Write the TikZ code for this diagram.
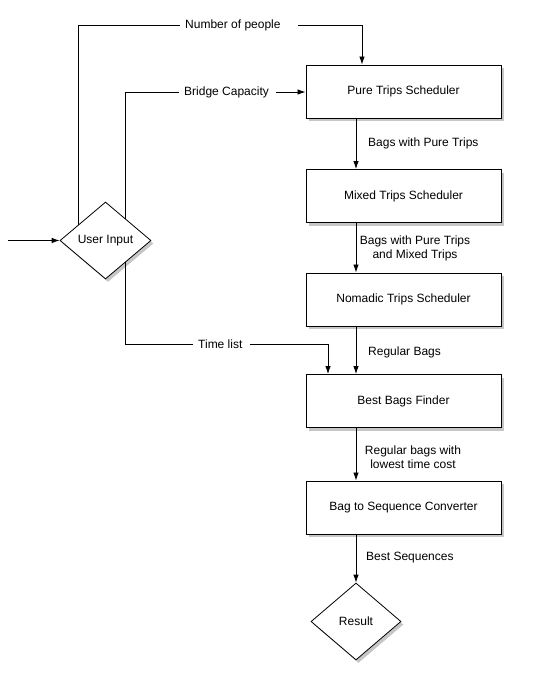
\documentclass[tikz,border=0pt]{standalone}
\usepackage{fontspec}
\setmainfont{Liberation Sans}
\usetikzlibrary{arrows.meta,shapes.geometric,shadows}
\begin{document}
\begin{tikzpicture}[x=1pt,y=-1pt,
  every node/.style={font=\fontsize{12}{14}\selectfont},
  procbox/.style={draw,line width=0.9pt,fill=white,minimum width=195pt,minimum height=53pt,inner sep=0pt,
    drop shadow={opacity=0.45,shadow xshift=2.5pt,shadow yshift=-3pt}},
  decide/.style={draw,diamond,line width=0.8pt,fill=white,inner sep=0pt,aspect=1.18,
    drop shadow={opacity=0.45,shadow xshift=2.5pt,shadow yshift=-3pt}},
  flow/.style={line width=0.8pt},
  arr/.style={flow,-{Latex[length=8pt,width=5.5pt]}},
  lbl/.style={inner sep=0pt}
]
\useasboundingbox (0,0) rectangle (547,673);

% process boxes
\node[procbox] (pts) at (403.5,91.5) {Pure Trips Scheduler};
\node[procbox] (mts) at (403.5,196) {Mixed Trips Scheduler};
\node[procbox] (nts) at (403.5,299.5) {Nomadic Trips Scheduler};
\node[procbox] (bbf) at (403.5,401) {Best Bags Finder};
\node[procbox] (bsc) at (403.5,507.5) {Bag to Sequence Converter};

% decisions
\node[decide,minimum width=91pt,minimum height=77pt] (ui) at (105.5,240.5) {User Input};
\node[decide,minimum width=90pt,minimum height=77pt] (res) at (356,621.5) {Result};

% input arrow
\coordinate (in) at (8,240.5);
\draw[arr] (in) -- (ui.west);

% labels of inputs
\node[lbl,anchor=west] (np) at (185,25) {Number of people};
\node[lbl,anchor=west] (bc) at (184,92) {Bridge Capacity};
\node[lbl,anchor=west] (tl) at (198,344) {Time list};

\coordinate (npx) at (362,25);
\coordinate (tlx) at (328,344);
\coordinate (cx) at (356,0);

% Number of people
\draw[flow] (ui.150.6) |- ([xshift=-5pt]np.west);
\draw[arr] ([xshift=17pt]np.east) -- (npx) -- (npx |- pts.north);

% Bridge capacity
\draw[flow] (ui.47) |- ([xshift=-5pt]bc.west);
\draw[arr] ([xshift=7pt]bc.east) -- (bc.east -| pts.west);

% Time list
\draw[flow] (ui.-47.7) |- ([xshift=-5pt]tl.west);
\draw[arr] ([xshift=7pt]tl.east) -- (tlx) -- (tlx |- bbf.north);

% main chain
\draw[arr] (pts.south -| cx) -- (mts.north -| cx);
\draw[arr] (mts.south -| cx) -- (nts.north -| cx);
\draw[arr] (nts.south -| cx) -- (bbf.north -| cx);
\draw[arr] (bbf.south -| cx) -- (bsc.north -| cx);
\draw[arr] (bsc.south -| cx) -- (res.north);

% chain labels
\node[lbl,anchor=west] (l1) at (368,143) {Bags with Pure Trips};
\node[lbl,align=center] (l2) at (415,248) {Bags with Pure Trips\\and Mixed Trips};
\node[lbl,anchor=west] (l3) at (368,352) {Regular Bags};
\node[lbl,align=center] (l4) at (413,457) {Regular bags with\\lowest time cost};
\node[lbl,anchor=west] (l5) at (366,558) {Best Sequences};
\end{tikzpicture}
\end{document}
